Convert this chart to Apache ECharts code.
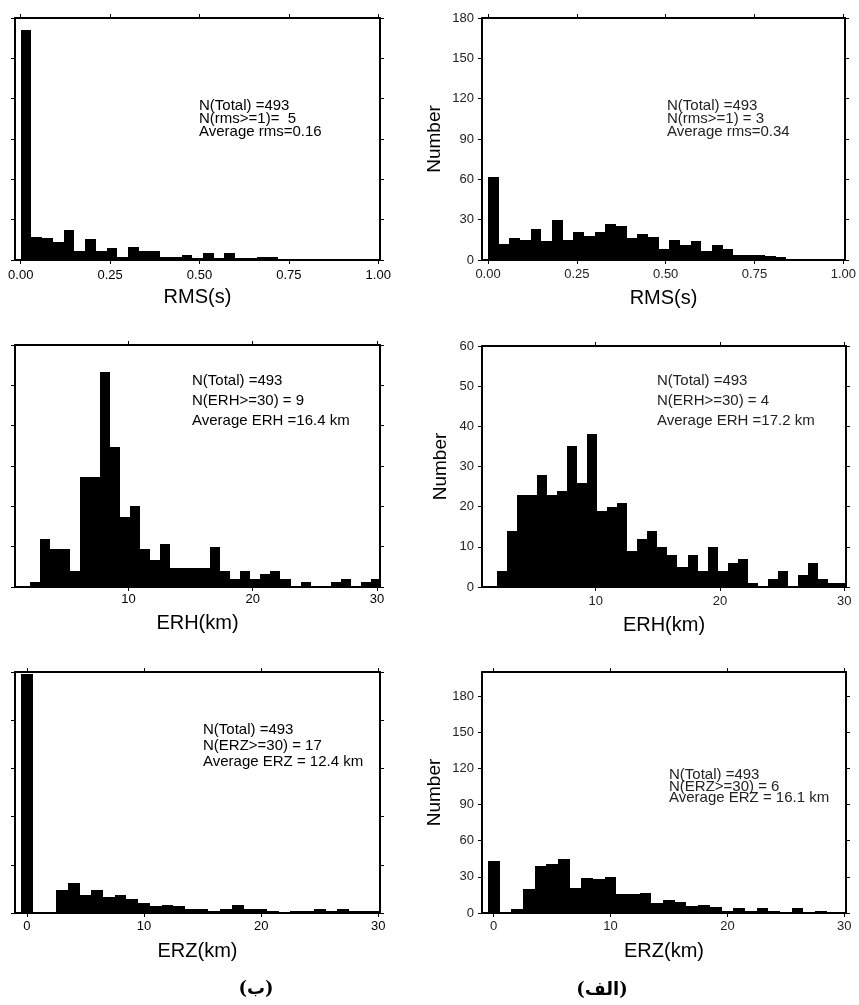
<!DOCTYPE html>
<html><head><meta charset="utf-8">
<script src="https://cdn.jsdelivr.net/npm/echarts@6/dist/echarts.min.js"></script>
<style>html,body{margin:0;padding:0;background:#fff}#c{width:859px;height:1005px}</style>
</head><body><div id="c"></div>
<script>
// ---------------- data ----------------
// x-axis tick labels
const rmsTicks = [0, 0.25, 0.5, 0.75, 1.0];
const erhTicks = [10, 20, 30];
const erzTicks = [0, 10, 20, 30];
// y-axis ticks (الف panels labelled, ب panels unlabelled)
const rmsCountTicksA = [0, 30, 60, 90, 120, 150, 180];
const erhCountTicksA = [0, 10, 20, 30, 40, 50, 60];
const erzCountTicksA = [0, 30, 60, 90, 120, 150, 180];
const rmsCountTicksB = [0, 40, 80, 120, 160, 200, 240];
const erhCountTicksB = [0, 15, 30, 45, 60, 75, 90];
const erzCountTicksB = [0, 50, 100, 150, 200, 250];

// histogram bins
const rmsBinStart = 0, rmsBinWidth = 0.03;
const erhBinStart = 2.06, erhBinWidth = 0.807;
const erzBinStart = -0.5, erzBinWidth = 1;

// counts (ب = left column, الف = right column)
const rmsCountsB = [228, 23, 22, 18, 30, 9, 21, 9, 12, 3, 13, 9, 9, 3, 3, 5, 2, 7, 2, 7, 2, 2, 3, 3, 0, 1, 1, 1, 0, 0, 0, 0, 0, 1];
const rmsCountsA = [62, 12, 16, 15, 23, 14, 30, 15, 21, 18, 21, 27, 25, 16, 19, 17, 8, 15, 11, 14, 7, 11, 8, 4, 4, 4, 3, 2, 1, 0];
const erhCountsB = [2, 18, 14, 14, 6, 41, 41, 80, 52, 26, 30, 14, 10, 16, 7, 7, 7, 7, 15, 6, 3, 6, 3, 5, 6, 3, 0, 2, 0, 0, 2, 3, 0, 2, 3];
const erhCountsA = [4, 14, 23, 23, 28, 23, 24, 35, 26, 38, 19, 20, 21, 9, 12, 14, 10, 8, 5, 8, 4, 10, 4, 6, 7, 1, 0, 2, 4, 0, 3, 6, 2, 1, 1];
const erzCountsB = [248, 0, 0, 24, 31, 19, 24, 17, 19, 15, 10, 7, 8, 7, 4, 4, 2, 4, 8, 4, 4, 2, 1, 2, 2, 4, 2, 4, 2, 2, 2];
const erzCountsA = [43, 0, 3, 20, 39, 41, 45, 21, 29, 28, 30, 16, 16, 17, 8, 11, 9, 6, 7, 5, 2, 4, 2, 4, 2, 1, 4, 1, 2, 1];

// annotation texts
const notesRmsB = ['N(Total) =493', 'N(rms>=1)=  5', 'Average rms=0.16'];
const notesRmsA = ['N(Total) =493', 'N(rms>=1) = 3', 'Average rms=0.34'];
const notesErhB = ['N(Total) =493', 'N(ERH>=30) = 9', 'Average ERH =16.4 km'];
const notesErhA = ['N(Total) =493', 'N(ERH>=30) = 4', 'Average ERH =17.2 km'];
const notesErzB = ['N(Total) =493', 'N(ERZ>=30) = 17', 'Average ERZ = 12.4 km'];
const notesErzA = ['N(Total) =493', 'N(ERZ>=30) = 6', 'Average ERZ = 16.1 km'];
const captionB = '(ب)';
const captionA = '(الف)';

// ---------------- chart ----------------
const FONT = '"Liberation Sans", Arial, sans-serif';
const chart = echarts.init(document.getElementById('c'), null, {renderer: 'canvas'});

function binData(start, width, counts) {
  return counts.map((c, i) => [start + i * width, start + (i + 1) * width, c]);
}

function renderBar(params, api) {
  const x0 = api.value(0), x1 = api.value(1), y = api.value(2);
  if (!y) return null;
  const p0 = api.coord([x0, y]);
  const p1 = api.coord([x1, 0]);
  const cs = params.coordSys;
  const l = Math.round(p0[0]), r = Math.round(p1[0]), t = Math.round(p0[1]), b = p1[1];
  const rect = echarts.graphic.clipRectByRect(
    {x: l, y: t, width: r - l, height: b - t},
    {x: cs.x, y: cs.y, width: cs.width, height: cs.height});
  return rect && {type: 'rect', shape: rect, style: {fill: '#000'}};
}

const grids = [], xAxes = [], yAxes = [], series = [];
const frame = {show: true, onZero: false, lineStyle: {color: '#000', width: 2}};

function panel(p) {
  const gi = grids.length;
  grids.push({left: p.box[0], top: p.box[1], width: p.box[2], height: p.box[3], containLabel: false});
  const tickStyle = {color: '#000', width: 1};
  xAxes.push({
    type: 'value', gridIndex: gi, position: 'bottom', min: p.xmin, max: p.xmax,
    axisLine: frame,
    axisTick: {show: true, length: 4, customValues: p.xticks, lineStyle: tickStyle},
    axisLabel: {customValues: p.xticks, margin: p.lmargin, fontSize: 13, color: p.labelColor,
      fontFamily: FONT, formatter: p.xfmt},
    splitLine: {show: false},
    name: p.xname, nameLocation: 'middle', nameGap: p.nameGap,
    nameTextStyle: {fontSize: 20, color: '#000', fontFamily: FONT}
  });
  xAxes.push({
    type: 'value', gridIndex: gi, position: 'top', min: p.xmin, max: p.xmax,
    axisLine: frame,
    axisTick: {show: true, length: 4, customValues: p.xticks, lineStyle: tickStyle},
    axisLabel: {show: false}, splitLine: {show: false}
  });
  yAxes.push({
    type: 'value', gridIndex: gi, position: 'left', min: 0, max: p.ymax,
    axisLine: frame,
    axisTick: {show: true, length: 4, customValues: p.yticks, lineStyle: tickStyle},
    axisLabel: {show: p.ylabels, customValues: p.yticks, margin: 8, fontSize: 13,
      color: p.labelColor, fontFamily: FONT},
    splitLine: {show: false},
    name: p.ylabels ? 'Number' : '', nameLocation: 'middle', nameGap: p.yNameGap,
    nameTextStyle: {fontSize: 19, color: '#000', fontFamily: FONT}
  });
  yAxes.push({
    type: 'value', gridIndex: gi, position: 'right', min: 0, max: p.ymax,
    axisLine: frame,
    axisTick: {show: true, length: 4, customValues: p.yticks, lineStyle: tickStyle},
    axisLabel: {show: false}, splitLine: {show: false}
  });
  series.push({
    type: 'custom', xAxisIndex: 2 * gi, yAxisIndex: 2 * gi,
    renderItem: renderBar, data: p.data, silent: true, animation: false,
    encode: {x: [0, 1], y: 2}
  });
}

const fmt2 = v => v.toFixed(2);
const fmt0 = v => String(v);

panel({box: [15, 18, 365, 242], xmin: -0.016, xmax: 1.005, xticks: rmsTicks, xfmt: fmt2,
  xname: 'RMS(s)', nameGap: 27, lmargin: 9, ymax: 240, yticks: rmsCountTicksB, ylabels: false,
  labelColor: '#000', data: binData(rmsBinStart, rmsBinWidth, rmsCountsB)});
panel({box: [482, 18, 364, 242], xmin: -0.017, xmax: 1.005, xticks: rmsTicks, xfmt: fmt2,
  xname: 'RMS(s)', nameGap: 28, lmargin: 8, ymax: 180, yticks: rmsCountTicksA, ylabels: true, yNameGap: 38,
  labelColor: '#222', data: binData(rmsBinStart, rmsBinWidth, rmsCountsA)});
panel({box: [15, 345, 365, 242], xmin: 0.85, xmax: 30.25, xticks: erhTicks, xfmt: fmt0,
  xname: 'ERH(km)', nameGap: 26, lmargin: 6, ymax: 90, yticks: erhCountTicksB, ylabels: false,
  labelColor: '#000', data: binData(erhBinStart, erhBinWidth, erhCountsB)});
panel({box: [482, 346, 364, 241], xmin: 0.85, xmax: 30.15, xticks: erhTicks, xfmt: fmt0,
  xname: 'ERH(km)', nameGap: 28, lmargin: 8, ymax: 60, yticks: erhCountTicksA, ylabels: true, yNameGap: 32,
  labelColor: '#222', data: binData(erhBinStart, erhBinWidth, erhCountsA)});
panel({box: [15, 672, 365, 241], xmin: -1.02, xmax: 30.15, xticks: erzTicks, xfmt: fmt0,
  xname: 'ERZ(km)', nameGap: 28, lmargin: 7, ymax: 250, yticks: erzCountTicksB, ylabels: false,
  labelColor: '#000', data: binData(erzBinStart, erzBinWidth, erzCountsB)});
panel({box: [482, 672, 364, 241], xmin: -1.0, xmax: 30.15, xticks: erzTicks, xfmt: fmt0,
  xname: 'ERZ(km)', nameGap: 28, lmargin: 7, ymax: 200, yticks: erzCountTicksA, ylabels: true, yNameGap: 38,
  labelColor: '#222', data: binData(erzBinStart, erzBinWidth, erzCountsA)});

function note(lines, x, y, size, lh, color) {
  return {type: 'text', x: x, y: y, silent: true,
    style: {text: lines.join('\n'), fontSize: size, fontFamily: FONT, lineHeight: lh,
      fill: color, align: 'left', verticalAlign: 'top'}};
}
function caption(text, x, y) {
  return {type: 'text', x: x, y: y, silent: true,
    style: {text: text, fontSize: 18, fontWeight: 'bold', fontFamily: '"DejaVu Serif", "DejaVu Sans", serif',
      fill: '#000', align: 'center', verticalAlign: 'middle'}};
}

chart.setOption({
  animation: false,
  backgroundColor: '#fff',
  grid: grids, xAxis: xAxes, yAxis: yAxes, series: series,
  graphic: [
    note(notesRmsB, 199, 99.5, 15, 13, '#000'),
    note(notesRmsA, 667, 99, 15, 13, '#222'),
    note(notesErhB, 192, 371, 15, 19.8, '#000'),
    note(notesErhA, 657, 370.5, 15, 20, '#222'),
    note(notesErzB, 203, 722, 15, 15.8, '#000'),
    note(notesErzA, 669, 769.5, 15, 11.3, '#222'),
    caption(captionB, 256, 989),
    caption(captionA, 602, 990)
  ]
});
</script></body></html>
